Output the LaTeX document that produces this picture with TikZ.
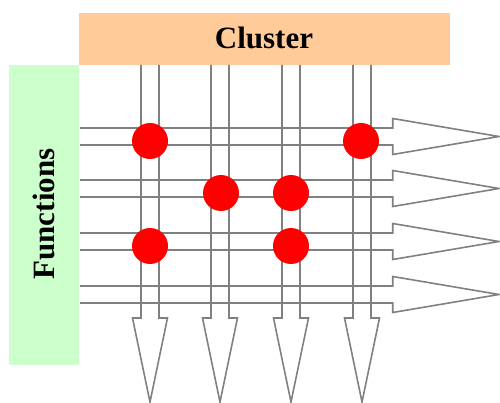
\documentclass[tikz,border=0pt]{standalone}
\usepackage{fontspec}
\setmainfont{Liberation Serif}
\definecolor{clusterfill}{HTML}{FFCC99}
\definecolor{funcfill}{HTML}{CCFFCC}
\definecolor{arrowgray}{HTML}{808080}
\begin{document}
\begin{tikzpicture}[x=1pt,y=-1pt,
  band/.style={draw=none,inner sep=0pt},
  flow/.style={draw=arrowgray,line width=1.6pt,line join=miter},
  hit/.style={circle,fill=red,draw=none,minimum size=36pt,inner sep=0pt},
  title/.style={font=\bfseries\fontsize{31}{31}\selectfont}]
\useasboundingbox (0,0) rectangle (500,403);

% header and side bands
\fill[clusterfill] (79,13) rectangle (450,65);
\node[title] (cluster) at (264,38) {Cluster};
\fill[funcfill] (9,65) rectangle (79,365);
\node[title,rotate=90] (functions) at (44,214) {Functions};

% horizontal (function) arrows
\foreach \c in {136.5,188.5,241.5,294.5}{
  \draw[flow] (80,\c-8.5) -- (392.7,\c-8.5) -- (392.7,\c-18) -- (499,\c)
    -- (392.7,\c+18) -- (392.7,\c+8.5) -- (80,\c+8.5);
}
% vertical (cluster) arrows
\foreach \c in {150,220,291,362}{
  \draw[flow] (\c-9,65) -- (\c-9,318) -- (\c-17.5,318) -- (\c,402)
    -- (\c+17.5,318) -- (\c+9,318) -- (\c+9,65);
}

% membership dots
\node[hit] (d11) at (150,141) {};
\node[hit] (d14) at (361,141) {};
\node[hit] (d22) at (221,193) {};
\node[hit] (d23) at (291,193) {};
\node[hit] (d31) at (150,246) {};
\node[hit] (d33) at (291,246) {};
\end{tikzpicture}
\end{document}
